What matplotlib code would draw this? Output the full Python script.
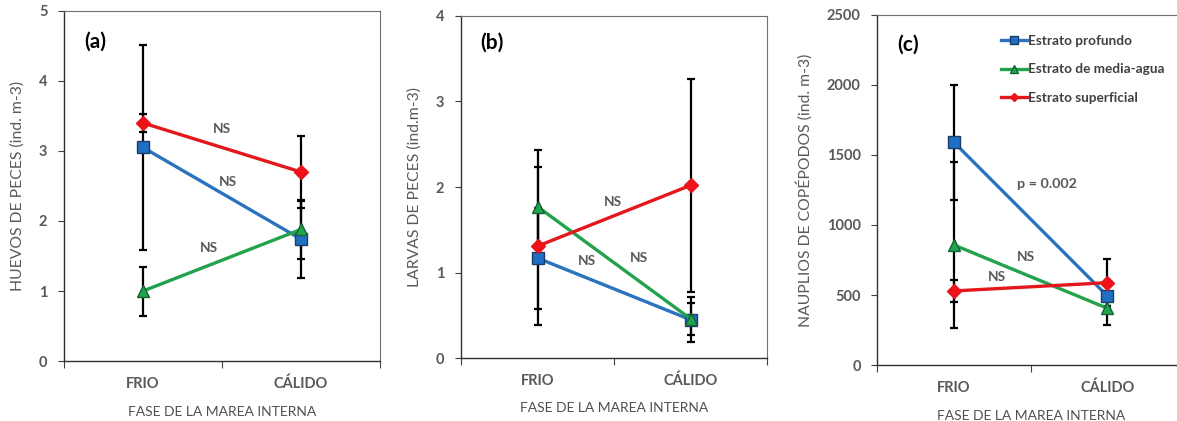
import matplotlib
matplotlib.use("Agg")
import matplotlib.pyplot as plt

plt.rcParams["font.family"] = ["Lato", "DejaVu Sans"]

phases = ["FRIO", "CÁLIDO"]
series_names = ["Estrato profundo", "Estrato de media-agua", "Estrato superficial"]

# (a) huevos de peces
eggs_deep = [3.05, 1.74]
eggs_mid = [1.00, 1.88]
eggs_surf = [3.40, 2.70]
eggs_deep_err = [1.46, 0.55]
eggs_mid_err = [0.35, 0.42]
eggs_surf_err = [0.13, 0.52]

# (b) larvas de peces
larv_deep = [1.17, 0.45]
larv_mid = [1.77, 0.46]
larv_surf = [1.31, 2.02]
larv_deep_err = [0.59, 0.26]
larv_mid_err = [0.66, 0.19]
larv_surf_err = [0.92, 1.24]

# (c) nauplios de copepodos
naup_deep = [1590, 493]
naup_mid = [857, 405]
naup_surf = [529, 588]
naup_deep_err = [412, 80]
naup_mid_err = [595, 120]
naup_surf_err = [77, 167]

colors = ["#2A74BF", "#22A24B", "#E3171C"]
faces = ["#1F6FC4", "#1FA64A", "#F01218"]
edges = ["#1B3E66", "#17603A", "#E3171C"]
markers = ["s", "^", "D"]
msizes = [8.5, 9, 7.5]
gray = "#595959"

fig = plt.figure(figsize=(11.77, 4.21), dpi=100)
positions = [
    [0.0544, 0.1425, 0.2685, 0.8314],
    [0.3917, 0.1489, 0.2602, 0.8138],
    [0.7454, 0.1330, 0.2606, 0.8314],
]

panels = [
    dict(vals=[eggs_deep, eggs_mid, eggs_surf], errs=[eggs_deep_err, eggs_mid_err, eggs_surf_err],
         ymax=5, step=1, ylabel="HUEVOS DE PECES (ind. m-3)", tag="(a)", tag_y=4.56,
         notes=[("NS", 1.0, 3.31), ("NS", 1.04, 2.56), ("NS", 0.92, 1.61)]),
    dict(vals=[larv_deep, larv_mid, larv_surf], errs=[larv_deep_err, larv_mid_err, larv_surf_err],
         ymax=4, step=1, ylabel="LARVAS DE PECES (ind.m-3)", tag="(b)", tag_y=3.68,
         notes=[("NS", 0.99, 1.83), ("NS", 0.825, 1.14), ("NS", 1.164, 1.17)]),
    dict(vals=[naup_deep, naup_mid, naup_surf], errs=[naup_deep_err, naup_mid_err, naup_surf_err],
         ymax=2500, step=500, ylabel="NAUPLIOS DE COPÉPODOS (ind. m-3)", tag="(c)", tag_y=2286,
         notes=[("p = 0.002", 1.105, 1293), ("NS", 0.97, 774), ("NS", 0.78, 631)]),
]

x = [0.5, 1.5]
for i, (pos, p) in enumerate(zip(positions, panels)):
    ax = fig.add_axes(pos)
    for k in range(3):
        ax.errorbar(x, p["vals"][k], yerr=p["errs"][k], fmt="none", ecolor="black",
                    elinewidth=1.6, capsize=3, capthick=1.6, zorder=2)
    for k in range(3):
        ax.plot(x, p["vals"][k], color=colors[k], lw=2.4, marker=markers[k],
                ms=msizes[k], mfc=faces[k], mec=edges[k], mew=1.0,
                label=series_names[k], zorder=3 + k * 0.1)
    ax.set_xlim(0, 2)
    ax.set_ylim(0, p["ymax"])
    ax.set_yticks(range(0, p["ymax"] + 1, p["step"]))
    ax.set_xticks([0, 1, 2])
    ax.set_xticklabels([])
    ax.tick_params(axis="x", length=5, color="#404040", direction="out")
    ax.tick_params(axis="y", length=4, color="#404040", labelsize=10.5,
                   labelcolor=gray, pad=8)
    for lab in ax.get_yticklabels():
        lab.set_fontweight("bold")
    for j, name in enumerate(phases):
        ax.text(x[j], -0.065, name, transform=ax.get_xaxis_transform(),
                ha="center", va="center", fontsize=10.5, fontweight="bold", color=gray)
    ax.text(1.0, -0.145, "FASE DE LA MAREA INTERNA", transform=ax.get_xaxis_transform(),
            ha="center", va="center", fontsize=10, color="#505050")
    ax.set_ylabel(p["ylabel"], fontsize=11.3, color=gray, labelpad=10)
    for s in ["left", "bottom"]:
        ax.spines[s].set_color("#303030")
        ax.spines[s].set_linewidth(1.0)
    for s in ["top", "right"]:
        ax.spines[s].set_color("#707070")
        ax.spines[s].set_linewidth(0.8)
    ax.text(0.2, p["tag_y"], p["tag"], fontsize=15, fontweight="bold", color="black",
            ha="center", va="center")
    for txt, tx, ty in p["notes"]:
        ax.text(tx, ty, txt, fontsize=10.3 if txt.startswith("p") else 9.8,
                fontweight="bold", color=gray, ha="center", va="center")
    if i == 2:
        ax.legend(loc="upper left", bbox_to_anchor=(0.385, 0.958), frameon=False,
                  handlelength=1.9, handletextpad=0.12,
                  labelspacing=1.2, markerscale=0.6, borderaxespad=0,
                  prop={"weight": "bold", "size": 9.8})
        for t in ax.get_legend().get_texts():
            t.set_color("#404040")

fig.savefig("out.png", dpi=100)
